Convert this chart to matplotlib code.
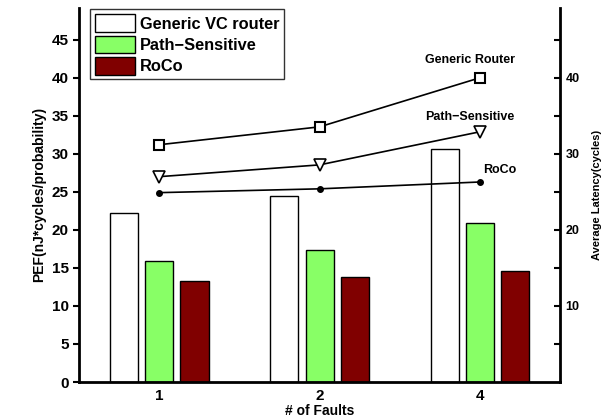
import numpy as np
import matplotlib.pyplot as plt

plt.rcParams['font.family'] = ['Liberation Sans', 'DejaVu Sans']

faults = ['1', '2', '4']
pef_generic = [22.2, 24.5, 30.6]
pef_path = [15.9, 17.4, 20.9]
pef_roco = [13.3, 13.8, 14.6]

lat_generic = [31.2, 33.55, 40.0]
lat_path = [27.0, 28.55, 32.9]
lat_roco = [24.9, 25.4, 26.3]

x = np.arange(1, len(faults) + 1)
w = 0.175
off = 0.22

fig = plt.figure(figsize=(6.13, 4.19), dpi=100)
ax = fig.add_axes([0.129, 0.0883, 0.7845, 0.893])

ax.bar(x - off, pef_generic, w, color='white', edgecolor='black', linewidth=1, label='Generic VC router')
ax.bar(x, pef_path, w, color='#88ff66', edgecolor='black', linewidth=1, label='Path\u2212Sensitive')
ax.bar(x + off, pef_roco, w, color='#800000', edgecolor='black', linewidth=1, label='RoCo')

ax.set_xlim(0.5, 3.5)
ax.set_ylim(0, 49.2)
ax.set_yticks(np.arange(0, 50, 5))
ax.set_xticks(x)
ax.set_xticklabels(faults)
ax.tick_params(axis='x', length=0, labelsize=11, pad=5)
ax.tick_params(axis='y', direction='out', length=4, width=1.5, labelsize=11)
for t in ax.get_xticklabels() + ax.get_yticklabels():
    t.set_fontweight('bold')
ax.spines['top'].set_visible(False)
ax.spines['right'].set_visible(False)
ax.spines['left'].set_linewidth(2)
ax.spines['bottom'].set_linewidth(2)
ax.set_ylabel('PEF(nJ*cycles/probability)', fontsize=10, fontweight='bold')
ax.set_xlabel('# of Faults', fontsize=10, fontweight='bold', labelpad=1)

leg = ax.legend(loc='upper left', bbox_to_anchor=(0.02, 1.0), fontsize=11.8, frameon=True,
                fancybox=False, edgecolor='black', handlelength=2.4, handleheight=1.3,
                borderpad=0.3, labelspacing=0.2, handletextpad=0.3, borderaxespad=0.1)
leg.get_frame().set_linewidth(1)
for t in leg.get_texts():
    t.set_fontweight('bold')

ax2 = ax.twinx()
ax2.set_ylim(0, 49.2)
ax2.plot(x, lat_generic, color='black', marker='s', mfc='white', mec='black', ms=7, mew=1.5, lw=1.2)
ax2.plot(x, lat_path, color='black', marker='v', mfc='white', mec='black', ms=8, mew=1.2, lw=1.2)
ax2.plot(x, lat_roco, color='black', marker='o', mfc='black', ms=4, lw=1.2)
ax2.set_yticks(np.arange(5, 50, 5))
ax2.set_yticklabels(['' if v % 10 else str(v) for v in range(5, 50, 5)])
ax2.tick_params(axis='y', direction='in', length=4, width=1.5, labelsize=9, pad=4)
for t in ax2.get_yticklabels():
    t.set_fontweight('bold')
for s in ['top', 'left', 'bottom']:
    ax2.spines[s].set_visible(False)
ax2.spines['right'].set_linewidth(2)
ax2.set_ylabel('Average Latency(cycles)', fontsize=8, fontweight='bold', labelpad=9)

ax2.text(2.94, 42.4, 'Generic Router', fontsize=9, fontweight='bold', ha='center', va='center')
ax2.text(2.94, 34.9, 'Path\u2212Sensitive', fontsize=9, fontweight='bold', ha='center', va='center')
ax2.text(3.125, 27.9, 'RoCo', fontsize=9, fontweight='bold', ha='center', va='center')

fig.savefig('out.png', dpi=100)
